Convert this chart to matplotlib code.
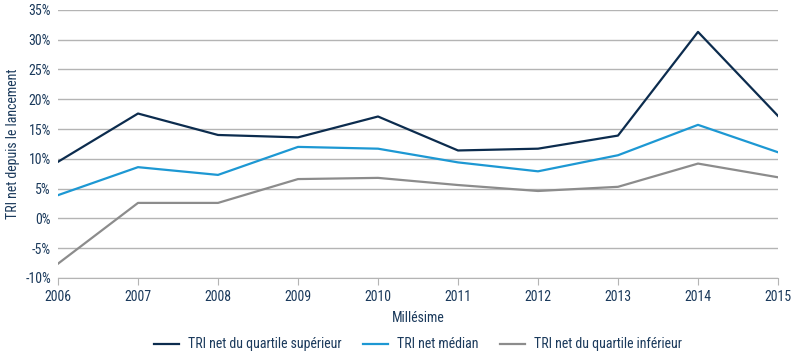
import matplotlib.pyplot as plt
from matplotlib.ticker import FuncFormatter
from matplotlib import font_manager

annees = [2006, 2007, 2008, 2009, 2010, 2011, 2012, 2013, 2014, 2015]
tri_superieur = [9.5, 17.6, 14.0, 13.6, 17.1, 11.4, 11.7, 13.9, 31.3, 17.2]
tri_median = [3.9, 8.6, 7.3, 12.0, 11.7, 9.4, 7.9, 10.6, 15.7, 11.1]
tri_inferieur = [-7.6, 2.6, 2.6, 6.6, 6.8, 5.6, 4.6, 5.3, 9.2, 6.9]

# police condensée si disponible
noms = {f.name for f in font_manager.fontManager.ttflist}
condensees = [n for n in ['Roboto Condensed', 'Liberation Sans Narrow', 'Open Sans Condensed'] if n in noms]
plt.rcParams['font.family'] = condensees + ['DejaVu Sans']
plt.rcParams['font.stretch'] = 'condensed'

texte = '#1b3a5c'
taille = 10

fig = plt.figure(figsize=(8, 3.58), dpi=100)
ax = fig.add_axes([0.0725, 0.2235, 0.9, 0.749])

ax.plot(annees, tri_superieur, color='#0c2c4e', lw=1.6, label='TRI net du quartile supérieur')
ax.plot(annees, tri_median, color='#1d98d3', lw=1.6, label='TRI net médian')
ax.plot(annees, tri_inferieur, color='#8c8c8c', lw=1.6, label='TRI net du quartile inférieur')

ax.set_xlim(2006, 2015)
ax.set_ylim(-10, 35)
ax.set_yticks(range(-10, 36, 5))
ax.set_xticks(annees)
ax.yaxis.set_major_formatter(FuncFormatter(lambda v, p: f'{v:.0f}%'))
ax.grid(axis='y', color='#b4b4b4', lw=1)
ax.set_axisbelow(True)

for s in ['top', 'right', 'left']:
    ax.spines[s].set_visible(False)
ax.spines['bottom'].set_color('#b4b4b4')
ax.tick_params(axis='y', length=0, pad=5, labelsize=taille, labelcolor=texte)
ax.tick_params(axis='x', length=5, color='#b4b4b4', pad=4, labelsize=taille, labelcolor=texte)

ax.set_xlabel('Millésime', fontsize=taille, color=texte, labelpad=5)
ax.set_ylabel('TRI net depuis le lancement', fontsize=taille, color=texte, labelpad=4)

ax.legend(loc='upper center', bbox_to_anchor=(0.5, -0.175), ncol=3, frameon=False,
          fontsize=taille, labelcolor=texte, handlelength=1.8, handletextpad=0.6,
          columnspacing=1.6)

fig.savefig('out.png', dpi=100)
